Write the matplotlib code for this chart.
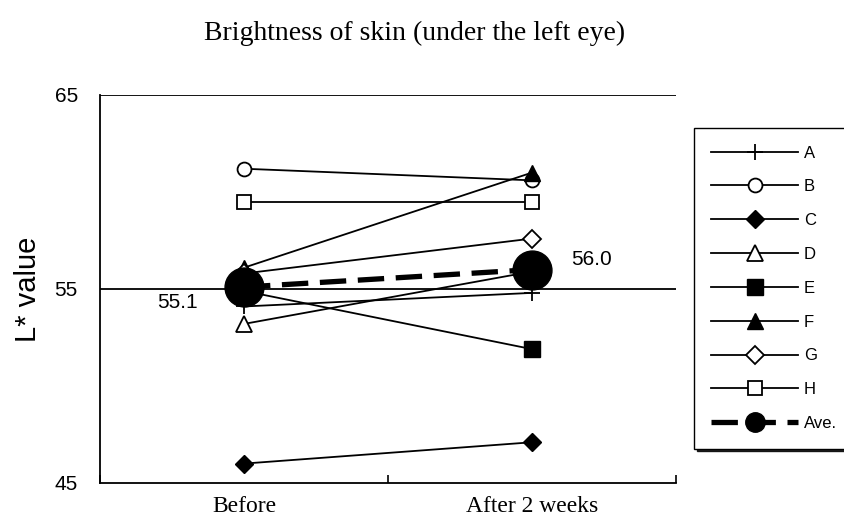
import matplotlib
matplotlib.use("Agg")
import matplotlib.pyplot as plt

categories = ["Before", "After 2 weeks"]
subjects = ["A", "B", "C", "D", "E", "F", "G", "H"]
values = {
    "A": [54.1, 54.8],
    "B": [61.2, 60.6],
    "C": [46.0, 47.1],
    "D": [53.2, 55.9],
    "E": [54.9, 51.9],
    "F": [56.1, 61.0],
    "G": [55.8, 57.6],
    "H": [59.5, 59.5],
}
average = [55.1, 56.0]
avg_labels = ["55.1", "56.0"]
yticks = [45, 55, 65]

markers = {
    "A": dict(marker="+", mfc="black", ms=12, mew=1.3),
    "B": dict(marker="o", mfc="white", ms=10, mew=1.3),
    "C": dict(marker="D", mfc="black", ms=9, mew=1.0),
    "D": dict(marker="^", mfc="white", ms=11, mew=1.3),
    "E": dict(marker="s", mfc="black", ms=11, mew=1.0),
    "F": dict(marker="^", mfc="black", ms=11, mew=1.0),
    "G": dict(marker="D", mfc="white", ms=9, mew=1.3),
    "H": dict(marker="s", mfc="white", ms=10, mew=1.3),
}

fig = plt.figure(figsize=(8.45, 5.25), dpi=100)
ax = fig.add_axes([100/845, 1-483/525, 576/845, 388/525])

xs = [0.5, 1.5]
handles = []
for s in subjects:
    h, = ax.plot(xs, values[s], color="black", lw=1.3, mec="black", label=s, **markers[s])
    handles.append(h)
ha, = ax.plot(xs, average, color="black", lw=3.8, ls=(0, (5, 2.2)), marker="o",
              ms=28, mfc="black", mec="black", label="Ave.", zorder=5)
handles.append(ha)

ax.text(xs[0] - 0.16, average[0] - 0.3, avg_labels[0], ha="right", va="top",
        fontsize=15, family="Liberation Sans")
ax.text(xs[1] + 0.135, average[1] + 0.05, avg_labels[1], ha="left", va="bottom",
        fontsize=15, family="Liberation Sans")

ax.set_xlim(0, 2)
ax.set_ylim(45, 65)
ax.set_yticks(yticks)
ax.set_yticklabels([str(v) for v in yticks], fontsize=15, family="Liberation Sans")
ax.tick_params(axis="y", length=0, pad=16)
ax.set_xticks([0, 1, 2])
ax.set_xticklabels([])
ax.set_xticks(xs, minor=True)
ax.set_xticklabels(categories, minor=True, fontsize=17, family="Liberation Serif")
ax.tick_params(axis="x", which="major", direction="in", length=6, width=1.2)
ax.tick_params(axis="x", which="minor", length=0, pad=9)
for y in [55, 65]:
    ax.axhline(y, color="black", lw=1.3, zorder=0)
ax.spines["right"].set_visible(False)
ax.spines["top"].set_visible(False)
ax.spines["left"].set_linewidth(1.3)
ax.spines["bottom"].set_linewidth(1.3)
ax.set_ylabel("L* value", fontsize=21, family="Liberation Sans", labelpad=9)

fig.text(415/845, 1-33/525, "Brightness of skin (under the left eye)", ha="center", va="center",
         fontsize=20, family="Liberation Serif")

leg = fig.legend(handles=handles, loc="upper left", bbox_to_anchor=(694/845, 1-128/525),
                 prop={"family": "Liberation Sans", "size": 12},
                 handlelength=5.2, labelspacing=1.13, handletextpad=0.35, borderpad=1.05,
                 borderaxespad=0, frameon=True, fancybox=False,
                 shadow={"color": "black", "alpha": 0.85})
leg.get_frame().set_edgecolor("black")
leg.get_frame().set_linewidth(1.0)
for lh, s in zip(leg.legend_handles, subjects + ["Ave."]):
    if s == "Ave.":
        lh.set_markersize(14)

fig.savefig("out.png", dpi=100)
